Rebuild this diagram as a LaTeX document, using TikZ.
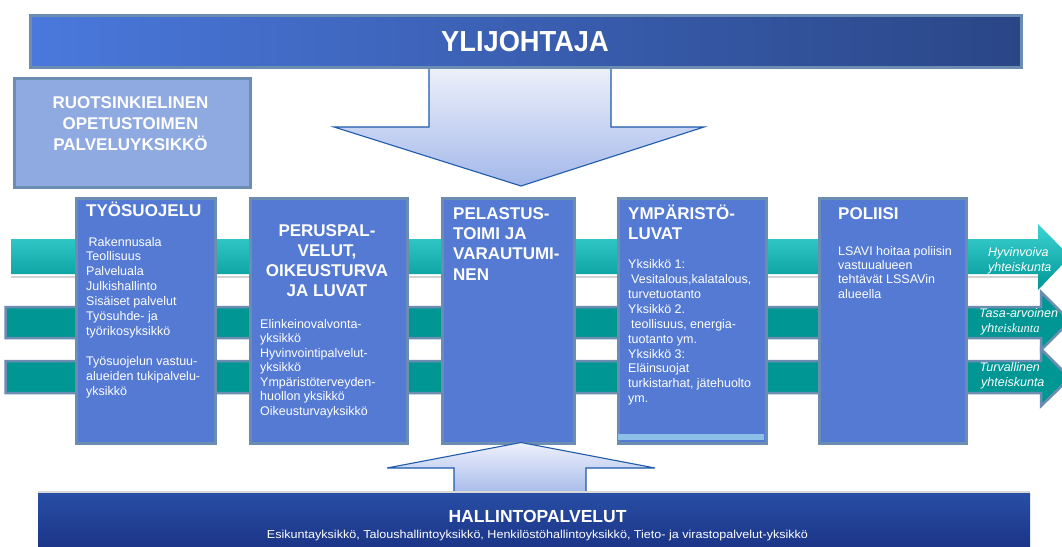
\documentclass[tikz,border=0pt]{standalone}
\usepackage{fontspec}
\setmainfont{Liberation Sans}
\newfontfamily\serifit{Liberation Serif}
\usepackage{graphicx}
\definecolor{boxc}{RGB}{84,122,212}
\definecolor{bordc}{RGB}{108,141,178}
\definecolor{tealc}{RGB}{0,150,148}
\definecolor{tealhi}{RGB}{60,212,210}
\definecolor{tealmid}{RGB}{0,168,168}
\definecolor{teallo}{RGB}{0,150,150}
\definecolor{barL}{RGB}{74,120,220}
\definecolor{barR}{RGB}{42,70,135}
\definecolor{ruotc}{RGB}{143,169,225}
\definecolor{hallT}{RGB}{40,78,165}
\definecolor{hallB}{RGB}{26,50,132}
\definecolor{arrT}{RGB}{238,241,251}
\definecolor{arrB}{RGB}{163,184,234}
\definecolor{arrD}{RGB}{30,90,170}
\definecolor{ympstrip}{RGB}{140,192,230}
\begin{document}
\begin{tikzpicture}[x=1pt,y=-1pt,
  colbox/.style={draw=bordc, line width=3pt, fill=boxc, inner sep=0pt, anchor=north west},
  titletxt/.style={font=\fontsize{17}{20}\selectfont\bfseries, text=white, inner sep=0pt, anchor=base west},
  ctitletxt/.style={font=\fontsize{17}{20}\selectfont\bfseries, text=white, inner sep=0pt, anchor=base},
  bodytxt/.style={font=\fontsize{12.5}{15}\selectfont, text=white, inner sep=0pt, anchor=base west},
  arrtxt/.style={font=\fontsize{12.5}{15}\selectfont\itshape, text=white, inner sep=0pt, anchor=base west},
  bigarrow/.style={draw=arrD, line width=1.1pt, top color=arrT, bottom color=arrB},
  band/.style={draw=bordc, line width=2.5pt, fill=tealc},
  topband/.style={top color=tealhi, middle color=tealmid, bottom color=teallo}
]
\useasboundingbox (0,0) rectangle (1062,546);
\clip (0,0) rectangle (1062,546);
\fill[white] (0,0) rectangle (1062,546);

% teal bands with arrow heads
\fill[gray!35] (11,276) rectangle (1038,278);
\path[topband] (11,239) -- (1038,239) -- (1038,224) -- (1070,256.5) -- (1038,290) -- (1038,274) -- (11,274) -- cycle;
\path[band] (5.5,307) -- (1041,307) -- (1041,292) -- (1070,321) -- (1041,350) -- (1041,338) -- (5.5,338) -- cycle;
\path[band] (5.5,361) -- (1041,361) -- (1041,349) -- (1070,378) -- (1041,406) -- (1041,393) -- (5.5,393) -- cycle;

% down arrow from the top bar
\path[bigarrow] (429,66) -- (611,66) -- (611,127) -- (704,127) -- (521,186) -- (334,127) -- (429,127) -- cycle;

% top bar
\node[draw=bordc, line width=3pt, left color=barL, right color=barR, inner sep=0pt, anchor=north west,
      minimum width=991pt, minimum height=52pt] (top) at (28.5,13.5) {};
\node[inner sep=0pt, anchor=base, text=white] (toptxt) at (525,51.5)
  {\scalebox{0.94}[1]{\fontsize{29}{30}\selectfont\bfseries YLIJOHTAJA}};

% Swedish unit box
\node[draw=bordc, line width=3pt, fill=ruotc, inner sep=0pt, anchor=north west,
      minimum width=236pt, minimum height=109pt] (ruot) at (12.5,76.5) {};
\node[ctitletxt] (r1) at (130.5,108.7) {RUOTSINKIELINEN};
\node[ctitletxt] (r2) at (130.5,129.4) {OPETUSTOIMEN};
\node[ctitletxt] (r3) at (130.5,150.1) {PALVELUYKSIKKÖ};

% column boxes
\node[colbox, minimum width=139pt, minimum height=245pt] (tyo) at (74.5,196.5) {};
\node[colbox, minimum width=157pt, minimum height=245pt] (per) at (248.5,196.5) {};
\node[colbox, minimum width=132pt, minimum height=245pt] (pel) at (440.5,196.5) {};
\node[colbox, minimum width=148pt, minimum height=245pt] (ymp) at (616.5,196.5) {};
\node[colbox, minimum width=147pt, minimum height=245pt] (pol) at (817.5,196.5) {};
\fill[ympstrip] (618,433.5) rectangle (764,440);

% TYÖSUOJELU
\node[titletxt] (tyoT) at (86,216.8) {TYÖSUOJELU};
\foreach \t [count=\i] in {{\hspace*{2.5pt}Rakennusala},Teollisuus,Palveluala,Julkishallinto,Sisäiset palvelut,Työsuhde- ja,työrikosyksikkö,{},Työsuojelun vastuu-,alueiden tukipalvelu-,yksikkö}
  {\node[bodytxt] (tyo\i) at (86,{246+14.9*(\i-1)}) {\t};}

% PERUSPALVELUT
\foreach \t [count=\i] in {PERUSPAL-,{VELUT,},OIKEUSTURVA,JA LUVAT}
  {\node[ctitletxt] (perT\i) at (327,{236+20.2*(\i-1)}) {\t};}
\foreach \t [count=\i] in {Elinkeinovalvonta-,yksikkö,Hyvinvointipalvelut-,yksikkö,Ympäristöterveyden-,huollon yksikkö,Oikeusturvayksikkö}
  {\node[bodytxt] (per\i) at (260,{328.3+14.45*(\i-1)}) {\t};}

% PELASTUSTOIMI
\foreach \t [count=\i] in {PELASTUS-,TOIMI JA,VARAUTUMI-,NEN}
  {\node[titletxt] (pelT\i) at (453,{219.5+20.2*(\i-1)}) {\t};}

% YMPÄRISTÖLUVAT
\foreach \t [count=\i] in {YMPÄRISTÖ-,LUVAT}
  {\node[titletxt] (ympT\i) at (628,{219.5+20.2*(\i-1)}) {\t};}
\foreach \t [count=\i] in {Yksikkö 1:,{\hspace*{3pt}Vesitalous,kalatalous,},turvetuotanto,Yksikkö 2.,{\hspace*{3pt}teollisuus, energia-},tuotanto ym.,Yksikkö 3:,Eläinsuojat,{turkistarhat, jätehuolto},ym.}
  {\node[bodytxt] (ymp\i) at (628,{268.3+14.95*(\i-1)}) {\t};}

% POLIISI
\node[titletxt] (polT) at (838,219.5) {POLIISI};
\foreach \t [count=\i] in {LSAVI hoitaa poliisin,vastuualueen,tehtävät LSSAVin,alueella}
  {\node[bodytxt] (pol\i) at (838,{255+14.4*(\i-1)}) {\t};}

% arrow labels
\node[arrtxt] (a1a) at (988,256.5) {Hyvinvoiva};
\node[arrtxt] (a1b) at (988,271) {yhteiskunta};
\node[arrtxt] (a2a) at (979,317.3) {Tasa-arvoinen};
\node[arrtxt] (a2b) at (981,332.7) {yh{\serifit\itshape teiskunta}};
\node[arrtxt] (a3a) at (979.5,371.7) {Turvallinen};
\node[arrtxt] (a3b) at (981,386.7) {yhteiskunta};

% up arrow
\path[bigarrow] (454,496) -- (454,468) -- (387,468) -- (521,442.5) -- (655,468) -- (586,468) -- (586,496) -- cycle;

% bottom bar
\fill[gray!30] (38,491) rectangle (1030,493);
\node[top color=hallT, bottom color=hallB, inner sep=0pt, anchor=north west,
      minimum width=992pt, minimum height=60pt] (hall) at (38,493) {};
\node[inner sep=0pt, anchor=base, text=white] (hallT) at (537.5,522.7)
  {\fontsize{17.5}{20}\selectfont\bfseries HALLINTOPALVELUT};
\node[inner sep=0pt, anchor=base, text=white] (hallS) at (537.5,538.3)
  {\resizebox{541pt}{\height}{\fontsize{11.5}{13}\selectfont Esikuntayksikkö, Taloushallintoyksikkö, Henkilöstöhallintoyksikkö, Tieto- ja virastopalvelut-yksikkö}};
\end{tikzpicture}
\end{document}
